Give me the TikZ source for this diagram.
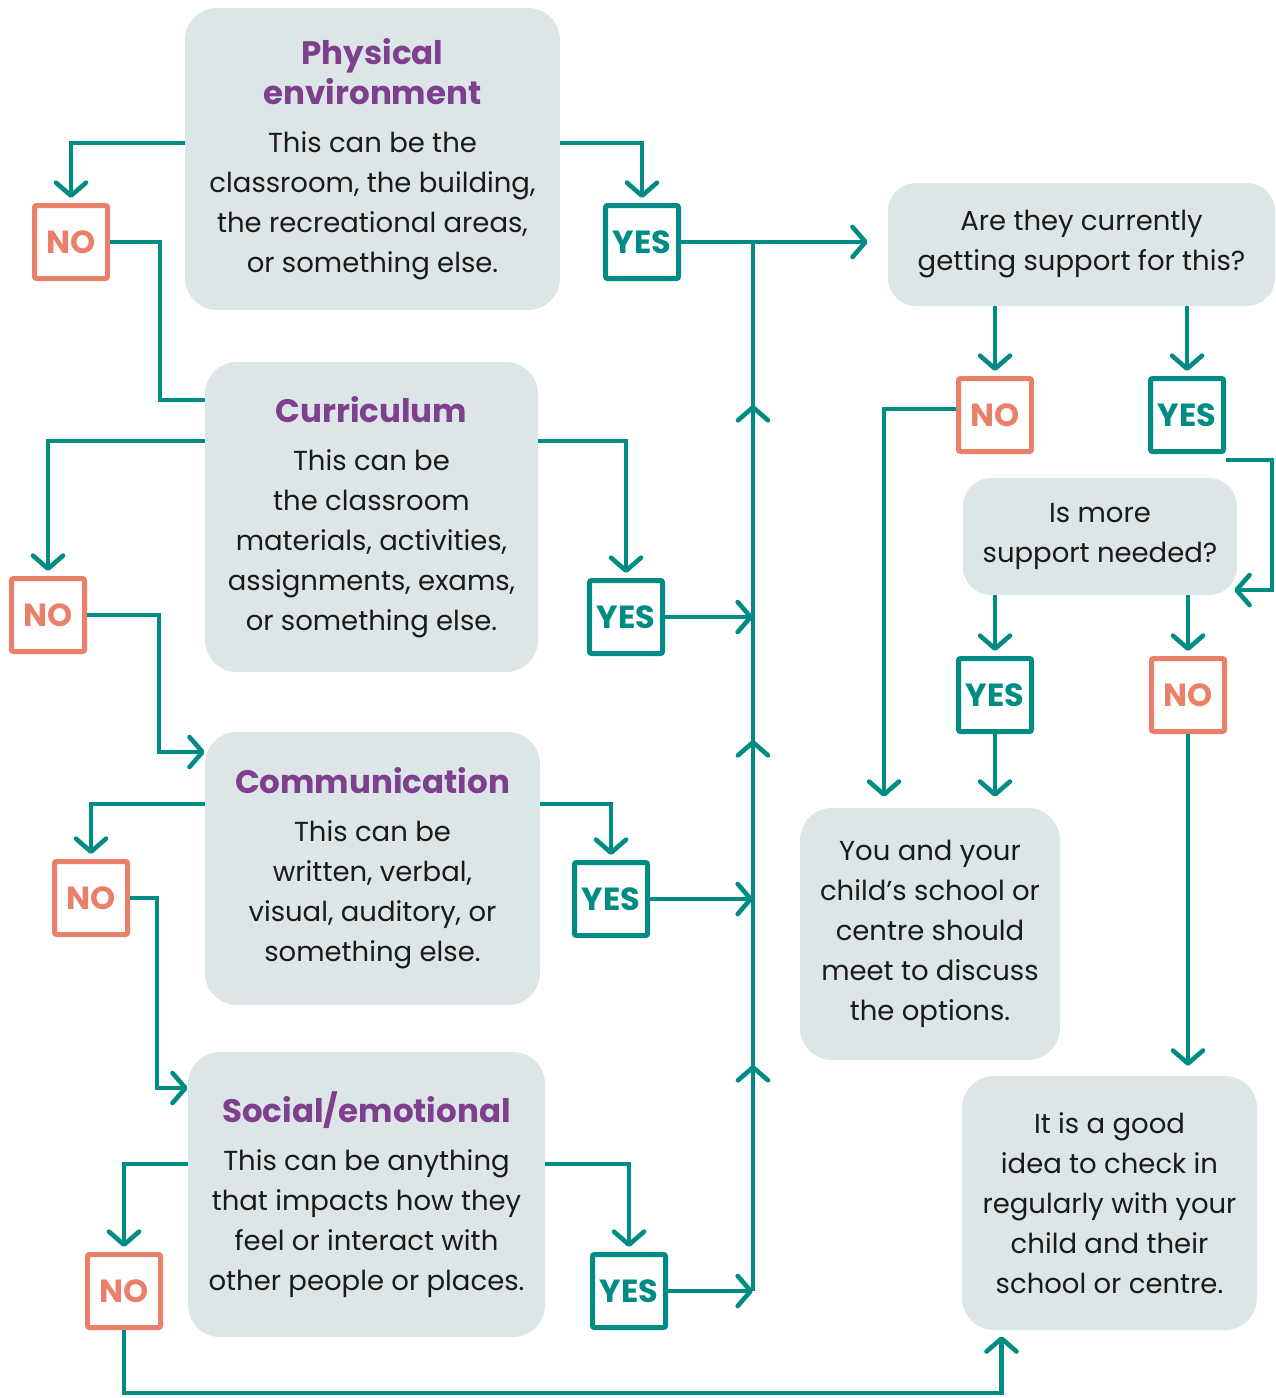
\documentclass[tikz,border=0pt]{standalone}
\usepackage{fontspec}
\setmainfont{Poppins}
\usetikzlibrary{arrows.meta,calc}
\definecolor{teal}{HTML}{008C84}
\definecolor{coral}{HTML}{E8806A}
\definecolor{purp}{HTML}{7E3F8F}
\definecolor{blob}{HTML}{DDE6E6}
\definecolor{ink}{HTML}{1A1A1A}
\tikzset{
  conn/.style={draw=teal,line width=4.6pt,line join=miter},
  arr/.style={conn,-{Straight Barb[length=13pt,width=30pt,line cap=round,line join=round]}},
  blobbox/.style={fill=blob,rounded corners=32pt,inner sep=0pt,align=center,text=ink,
    font=\fontsize{27.5}{40}\selectfont},
  nobox/.style={draw=coral,line width=5pt,rounded corners=2pt,minimum size=73pt,inner sep=0pt,
    text=coral,font=\fontsize{32}{34}\selectfont\bfseries},
  yesbox/.style={nobox,draw=teal,text=teal}
}
\newcommand{\ttlfont}[1]{{\color{purp}\fontsize{32.5}{42}\selectfont\bfseries #1}}
\begin{document}
\begin{tikzpicture}[x=1pt,y=-1pt]
\useasboundingbox (0,0) rectangle (1275,1398);
% blobs
\node[blobbox,minimum width=375pt,minimum height=302pt] (pe) at (372.5,159)
  {\ttlfont{Physical}\\ \ttlfont{environment}\\[8pt]
   This can be the\\ classroom, the building,\\ the recreational areas,\\ or something else.};
\node[blobbox,minimum width=333pt,minimum height=310pt] (cur) at (371.5,517)
  {\ttlfont{Curriculum}\\[8pt]
   This can be\\ the classroom\\ materials, activities,\\ assignments, exams,\\ or something else.};
\node[blobbox,minimum width=335pt,minimum height=273pt] (com) at (372.5,868.5)
  {\ttlfont{Communication}\\[8pt]
   This can be\\ written, verbal,\\ visual, auditory, or\\ something else.};
\node[blobbox,minimum width=357pt,minimum height=285pt] (soc) at (366.5,1194.5)
  {\ttlfont{Social/emotional}\\[8pt]
   This can be anything\\ that impacts how they\\ feel or interact with\\ other people or places.};
\node[blobbox,minimum width=387pt,minimum height=123pt,rounded corners=28pt] (q1) at (1081.5,244.5)
  {Are they currently\\ getting support for this?};
\node[blobbox,minimum width=274pt,minimum height=117pt,rounded corners=28pt] (q2) at (1100,536.5)
  {Is more\\ support needed?};
\node[blobbox,minimum width=260pt,minimum height=252pt] (r1) at (930,934)
  {You and your\\ child’s school or\\ centre should\\ meet to discuss\\ the options.};
\node[blobbox,minimum width=295pt,minimum height=254pt] (r2) at (1109.5,1203)
  {It is a good\\ idea to check in\\ regularly with your\\ child and their\\ school or centre.};
% decision boxes
\node[nobox] (no1) at (71,242) {NO};
\node[yesbox] (yes1) at (642,242) {YES};
\node[nobox] (no2) at (48,615) {NO};
\node[yesbox] (yes2) at (626,617) {YES};
\node[nobox] (no3) at (91,898) {NO};
\node[yesbox] (yes3) at (611,899) {YES};
\node[nobox] (no4) at (124,1291) {NO};
\node[yesbox] (yes4) at (629,1291) {YES};
\node[nobox] (no5) at (995,415) {NO};
\node[yesbox] (yes5) at (1187,415) {YES};
\node[yesbox] (yes6) at (995,695) {YES};
\node[nobox] (no6) at (1188,695) {NO};
\coordinate (spine) at (753,242);
% left column connectors
\draw[arr,shorten >=5pt] ([yshift=16pt]pe.west) -| (no1.north);
\draw[arr,shorten >=5pt] ([yshift=16pt]pe.east) -| (yes1.north);
\draw[conn] (no1.east) -- ++(50,0) |- ([yshift=117pt]cur.west);
\draw[arr,shorten >=20pt] (yes1.east) -- (yes1.east -| q1.west);
\draw[conn] (yes4.east -| spine) -- (spine);
\draw[arr,shorten >=5pt] ([yshift=76pt]cur.west) -| (no2.north);
\draw[arr,shorten >=5pt] ([yshift=76pt]cur.east) -| (yes2.north);
\draw[arr] (yes2.east) -- (yes2.east -| spine);
\draw[arr] (no2.east) -- ++(72,0) |- ([yshift=116.5pt]com.west);
\draw[arr,shorten >=5pt] ([yshift=64.5pt]com.west) -| (no3.north);
\draw[arr,shorten >=5pt] ([yshift=64.5pt]com.east) -| (yes3.north);
\draw[arr] (yes3.east) -- (yes3.east -| spine);
\draw[arr] (no3.east) -- ++(27,0) |- ([yshift=106.5pt]soc.west);
\draw[arr,shorten >=5pt] ([yshift=30.5pt]soc.west) -| (no4.north);
\draw[arr,shorten >=5pt] ([yshift=30.5pt]soc.east) -| (yes4.north);
\draw[arr] (yes4.east) -- (yes4.east -| spine);
\draw[arr] ($(spine)+(0,183)$) -- ($(spine)+(0,163)$);
\draw[arr] ($(spine)+(0,518)$) -- ($(spine)+(0,498)$);
\draw[arr] ($(spine)+(0,843)$) -- ($(spine)+(0,823)$);
\draw[arr,shorten >=6pt] (no4.south) -- ++(0,63) -| ([xshift=-108pt]r2.south);
% right column connectors
\draw[arr,shorten >=5pt] (no5.north |- q1.south) -- (no5.north);
\draw[arr,shorten >=5pt] (yes5.north |- q1.south) -- (yes5.north);
\draw[arr,shorten >=11pt] ([yshift=6pt]no5.west) -| ([xshift=-46pt]r1.north);
\draw[arr,shorten >=-3pt] ([yshift=-6pt]yes5.south east) -- ++(46,0) |- ([yshift=-53.5pt]q2.east);
\draw[arr,shorten >=5pt] (yes6.north |- q2.south) -- (yes6.north);
\draw[arr,shorten >=5pt] (no6.north |- q2.south) -- (no6.north);
\draw[arr,shorten >=11pt] (yes6.south) -- (yes6.south |- r1.north);
\draw[arr,shorten >=10pt] (no6.south) -- (no6.south |- r2.north);
\end{tikzpicture}
\end{document}
